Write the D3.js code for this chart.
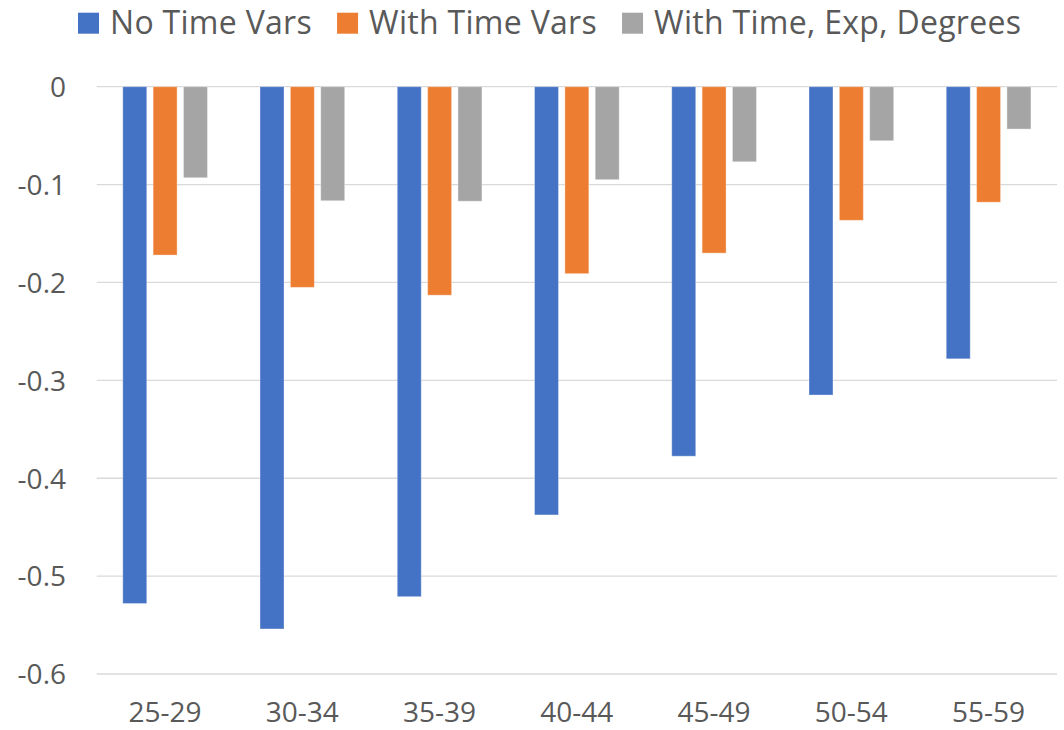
<!DOCTYPE html>
<html>
<head>
<meta charset="utf-8">
<script src="https://cdn.jsdelivr.net/npm/d3@7"></script>
<style>
  html, body { margin: 0; padding: 0; background: #fff; }
  svg { display: block; font-family: "Open Sans", "Noto Sans", sans-serif; }
</style>
</head>
<body>
<svg id="chart" width="1064" height="730"></svg>
<script>
// Age groups along the x axis
const categories = ["25-29", "30-34", "35-39", "40-44", "45-49", "50-54", "55-59"];

// Series names and their estimated coefficients
const seriesNames = ["No Time Vars", "With Time Vars", "With Time, Exp, Degrees"];
const noTimeVars = [-0.528, -0.554, -0.521, -0.4375, -0.3775, -0.315, -0.278];
const withTimeVars = [-0.172, -0.205, -0.213, -0.191, -0.170, -0.1365, -0.118];
const withTimeExpDegrees = [-0.093, -0.1165, -0.117, -0.095, -0.0767, -0.0552, -0.0433];

// Value axis ticks
const yTicks = [0, -0.1, -0.2, -0.3, -0.4, -0.5, -0.6];

const seriesValues = [noTimeVars, withTimeVars, withTimeExpDegrees];
const colors = ["#4472C4", "#ED7D31", "#A5A5A5"];
const textColor = "#595959";

const svg = d3.select("#chart");

const plot = { left: 96.7, right: 1057, top: 86.7, bottom: 674 };

const x0 = d3.scaleBand()
  .domain(categories)
  .range([plot.left, plot.right])
  .paddingInner(0.383)
  .paddingOuter(0.19);

const x1 = d3.scaleBand()
  .domain(d3.range(seriesNames.length))
  .range([0, x0.bandwidth()])
  .paddingInner(0.21)
  .paddingOuter(0);

const y = d3.scaleLinear()
  .domain([-0.6, 0])
  .range([plot.bottom, plot.top]);

// Horizontal gridlines
svg.append("g")
  .selectAll("line")
  .data(yTicks)
  .join("line")
  .attr("x1", plot.left)
  .attr("x2", plot.right)
  .attr("y1", d => y(d))
  .attr("y2", d => y(d))
  .attr("stroke", "#D9D9D9")
  .attr("stroke-width", 1.3);

// Value axis labels
const yAxis = d3.axisLeft(y)
  .tickValues(yTicks)
  .tickFormat(d => d === 0 ? "0" : d3.format(".1f")(d).replace("−", "-"))
  .tickSize(0)
  .tickPadding(0);

svg.append("g")
  .attr("transform", `translate(${66}, 0)`)
  .call(yAxis)
  .call(g => g.select(".domain").remove())
  .call(g => g.selectAll("text")
    .attr("fill", textColor)
    .attr("font-size", 28)
    .attr("font-family", "'Open Sans', sans-serif")
    .attr("dy", "0.35em"));

// Category axis labels
const xAxis = d3.axisBottom(x0).tickSize(0).tickPadding(0);
svg.append("g")
  .attr("transform", `translate(0, ${plot.bottom})`)
  .call(xAxis)
  .call(g => g.select(".domain").remove())
  .call(g => g.selectAll("text")
    .attr("fill", textColor)
    .attr("font-size", 28)
    .attr("font-family", "'Open Sans', sans-serif")
    .attr("dy", null)
    .attr("y", 48));

// Bars
const groups = svg.append("g")
  .selectAll("g")
  .data(categories)
  .join("g")
  .attr("transform", d => `translate(${x0(d)}, 0)`);

groups.selectAll("rect")
  .data((c, i) => seriesValues.map((vals, s) => ({ s, v: vals[i] })))
  .join("rect")
  .attr("x", d => x1(d.s))
  .attr("width", x1.bandwidth())
  .attr("y", d => y(Math.max(0, d.v)))
  .attr("height", d => Math.abs(y(d.v) - y(0)))
  .attr("fill", d => colors[d.s])
  .attr("stroke", "#ffffff")
  .attr("stroke-opacity", 0.35)
  .attr("stroke-width", 1);

// Legend laid out left to right
const legend = svg.append("g").attr("transform", "translate(78, 0)");
let lx = 0;
seriesNames.forEach((name, i) => {
  const item = legend.append("g").attr("transform", `translate(${lx}, 0)`);
  item.append("rect")
    .attr("x", 0).attr("y", 12.7)
    .attr("width", 21).attr("height", 21)
    .attr("fill", colors[i]);
  const t = item.append("text")
    .attr("x", 32).attr("y", 33.5)
    .attr("fill", textColor)
    .attr("font-size", 32)
    .attr("letter-spacing", 0.3)
    .text(name);
  lx += 32 + t.node().getComputedTextLength() + 25;
});
</script>
</body>
</html>
